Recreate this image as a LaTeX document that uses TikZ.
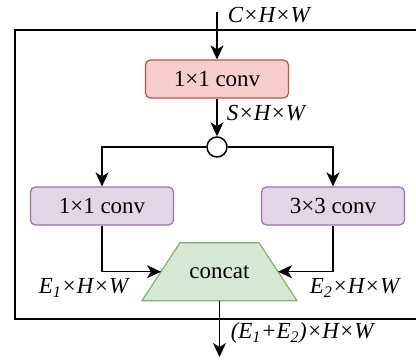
\documentclass[tikz,border=0pt]{standalone}
\usepackage{fontspec}
\setmainfont{Liberation Serif}
\usetikzlibrary{arrows.meta}
\definecolor{pinkfill}{HTML}{F8CECC}
\definecolor{pinkdraw}{HTML}{B85450}
\definecolor{purpfill}{HTML}{E1D5E7}
\definecolor{purpdraw}{HTML}{9673A6}
\definecolor{greenfill}{HTML}{D5E8D4}
\definecolor{greendraw}{HTML}{82B366}
\begin{document}
\begin{tikzpicture}[x=1pt,y=-1pt,line width=1.5pt,
  box/.style={rounded corners=5pt,minimum width=143pt,minimum height=38pt,
    font=\fontsize{23}{27}\selectfont,inner sep=0pt,line width=1.2pt},
  pinkbox/.style={box,fill=pinkfill,draw=pinkdraw},
  purpbox/.style={box,fill=purpfill,draw=purpdraw},
  arr/.style={-{Stealth[length=14pt,width=13pt,inset=4pt]}},
  lab/.style={font=\fontsize{23}{27}\selectfont\itshape,inner sep=0pt,anchor=west}]
\useasboundingbox (0,0) rectangle (416,360);
% frame
\draw (417,30) -- (15,30) -- (15,319) -- (417,319);
% nodes
\coordinate (in) at (217,12);
\node[pinkbox] (c1) at (217,79) {1×1 conv};
\node[circle,draw,fill=white,minimum size=20pt,inner sep=0pt] (sp) at (217,147) {};
\node[purpbox] (b1) at (102,206) {1×1 conv};
\node[purpbox] (b2) at (333,206) {3×3 conv};
\draw[fill=greenfill,draw=greendraw,line width=1.2pt] (142,300.7) -- (180,242.7) -- (259,242.7) -- (297,300.7) -- cycle;
\node[font=\fontsize{23}{27}\selectfont,inner sep=0pt] (cc) at (219.5,272) {concat};
\coordinate (cl) at (161,271.7);
\coordinate (cr) at (278,271.7);
\coordinate (cb) at (219.5,300.7);
\coordinate (out) at (219.5,357);
% connectors
\draw[arr] (in) -- (c1);
\draw[arr] (c1) -- (sp);
\draw[arr] (sp) -| (b1);
\draw[arr] (sp) -| (b2);
\draw[arr] (b1) |- (cl);
\draw[arr] (b2) |- (cr);
\draw[arr] (cb) -- (out);
% labels
\node[lab] (lc) at (227,15) {C×H×W};
\node[lab] (ls) at (226,113) {S×H×W};
\node[lab,anchor=east] (le1) at (129,288) {E\textsubscript{1}×H×W};
\node[lab] (le2) at (309,288) {E\textsubscript{2}×H×W};
\node[lab] (lo) at (230,333) {(E\textsubscript{1}+E\textsubscript{2})×H×W};
\end{tikzpicture}
\end{document}
